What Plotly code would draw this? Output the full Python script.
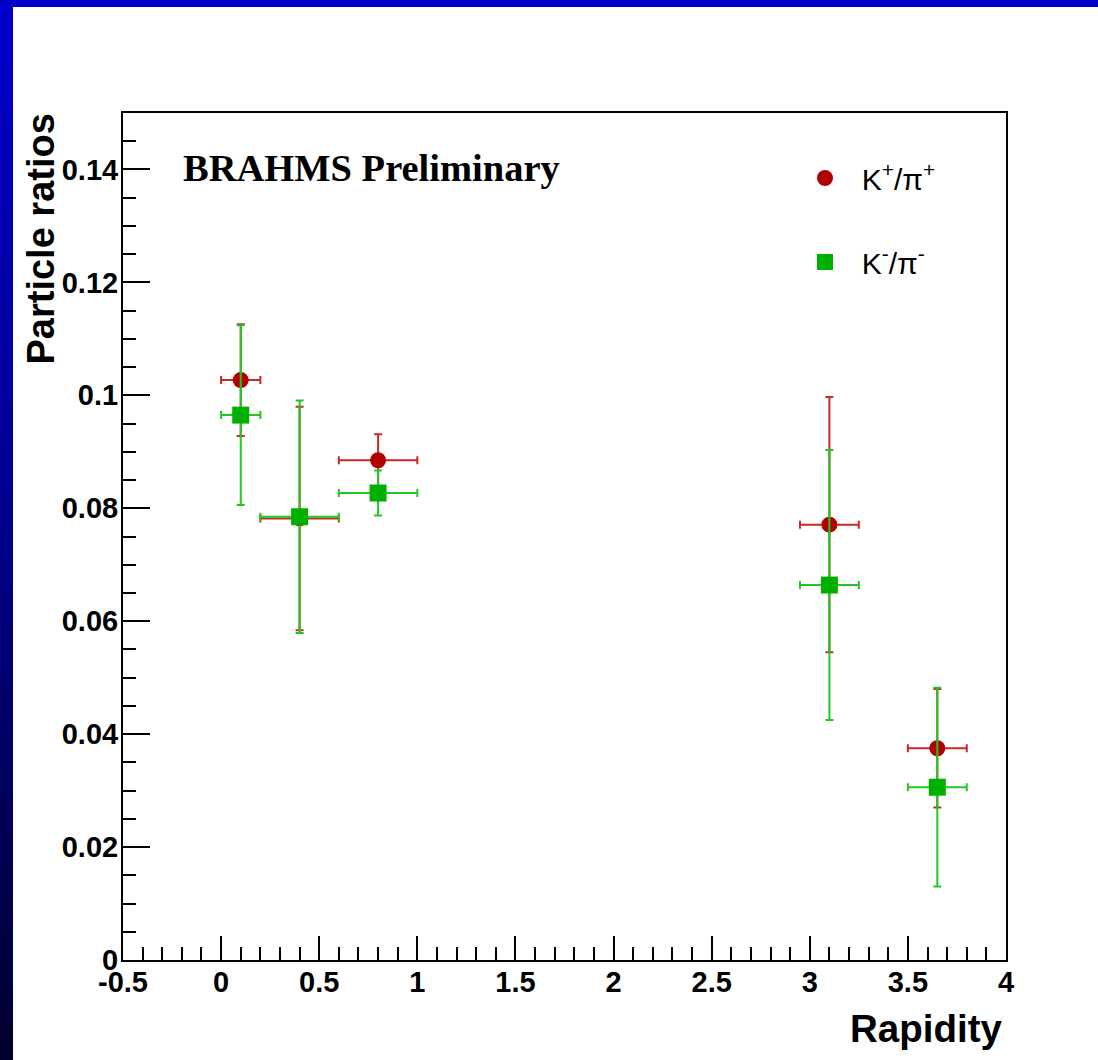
import plotly.graph_objects as go

# ---- data ----
rapidity = [0.1, 0.4, 0.8, 3.1, 3.65]
rapidity_err = [0.1, 0.2, 0.2, 0.15, 0.15]

kp_pip = [0.1027, 0.0782, 0.0885, 0.0771, 0.0375]
kp_pip_err = [0.0099, 0.0198, 0.0046, 0.0226, 0.0105]

km_pim = [0.0965, 0.0785, 0.0827, 0.0664, 0.0306]
km_pim_err = [0.0159, 0.0206, 0.0040, 0.0239, 0.0176]

x_tickvals = [-0.5, 0, 0.5, 1, 1.5, 2, 2.5, 3, 3.5, 4]
x_ticktext = ["-0.5", "0", "0.5", "1", "1.5", "2", "2.5", "3", "3.5", "4"]
y_tickvals = [0, 0.02, 0.04, 0.06, 0.08, 0.1, 0.12, 0.14]
y_ticktext = ["0", "0.02", "0.04", "0.06", "0.08", "0.1", "0.12", "0.14"]

W, H = 1098, 1060
L, R, T, B = 123, 92, 113, 100
PW, PH = W - L - R, H - T - B

def px_x(px):
    return (px - L) / PW

def px_y(py):
    return (H - B - py) / PH

NB = "\u00a0"

fig = go.Figure()

fig.add_trace(go.Scatter(
    x=rapidity, y=kp_pip, mode="markers",
    name=NB * 2 + "K<sup>+</sup>/π<sup>+</sup>", legendgroup="kplus",
    marker=dict(symbol="circle", size=16, color="#b00000"),
    error_x=dict(type="data", array=rapidity_err, color="#c82828", thickness=2, width=4),
    error_y=dict(type="data", array=kp_pip_err, color="#c82828", thickness=2, width=4),
))
fig.add_trace(go.Scatter(
    x=rapidity, y=km_pim, mode="markers",
    name=NB * 2 + "K<sup>-</sup>/π<sup>-</sup>", legendgroup="kminus",
    marker=dict(symbol="square", size=17, color="#00b000"),
    error_x=dict(type="data", array=rapidity_err, color="#22c822", thickness=2, width=4),
    error_y=dict(type="data", array=km_pim_err, color="#22c822", thickness=2, width=4),
))

tickfont = dict(family="Liberation Sans", size=29, color="black", weight="bold")

fig.update_xaxes(
    range=[-0.5, 4], tickvals=x_tickvals, ticktext=x_ticktext,
    ticks="inside", ticklen=24, tickwidth=2, tickcolor="black",
    minor=dict(dtick=0.1, ticks="inside", ticklen=13, tickwidth=2, tickcolor="black"),
    showline=True, linecolor="black", linewidth=2, mirror=True,
    showgrid=False, zeroline=False, tickfont=tickfont, ticklabelstandoff=-5,
)
fig.update_yaxes(
    range=[0, 0.15], tickvals=y_tickvals, ticktext=y_ticktext,
    ticks="inside", ticklen=27, tickwidth=2, tickcolor="black",
    minor=dict(dtick=0.005, ticks="inside", ticklen=13, tickwidth=2, tickcolor="black"),
    showline=True, linecolor="black", linewidth=2, mirror=True,
    showgrid=False, zeroline=False, tickfont=tickfont, ticklabelstandoff=-3,
)

# blue slide frame: top band and left gradient band
shapes = []
shapes.append(dict(type="rect", xref="paper", yref="paper",
                   x0=px_x(0), x1=px_x(W), y0=px_y(7), y1=px_y(0),
                   fillcolor="#0000cc", line=dict(width=0), layer="above"))
stops = [(0, 204), (500, 143), (1060, 45)]
def blue_at(py):
    for (a, ca), (b, cb) in zip(stops[:-1], stops[1:]):
        if a <= py <= b:
            return ca + (cb - ca) * (py - a) / (b - a)
    return stops[-1][1]
step = 10
for y0 in range(0, H, step):
    c = int(round(blue_at(y0 + step / 2)))
    shapes.append(dict(type="rect", xref="paper", yref="paper",
                       x0=px_x(0), x1=px_x(13), y0=px_y(y0 + step + 0.5), y1=px_y(y0),
                       fillcolor=f"rgb(0,0,{c})", line=dict(width=0), layer="above"))

annotations = [
    dict(text="BRAHMS Preliminary", xref="paper", yref="paper",
         x=px_x(181), y=px_y(168), xanchor="left", yanchor="middle", showarrow=False,
         font=dict(family="Liberation Serif", size=38.5, color="black", weight="bold")),
    dict(text="Rapidity", xref="paper", yref="paper",
         x=px_x(1004), y=px_y(1028), xanchor="right", yanchor="middle", showarrow=False,
         font=dict(family="Liberation Sans", size=38.5, color="black", weight="bold")),
    dict(text="Particle ratios", xref="paper", yref="paper", textangle=-90,
         x=px_x(41), y=px_y(112), xanchor="center", yanchor="top", showarrow=False,
         font=dict(family="Liberation Sans", size=38, color="black", weight="bold")),
]

fig.update_layout(
    width=W, height=H,
    margin=dict(l=L, r=R, t=T, b=B),
    paper_bgcolor="white", plot_bgcolor="white",
    shapes=shapes, annotations=annotations,
    showlegend=True,
    legend=dict(x=px_x(805), y=px_y(152), xanchor="left", yanchor="top",
                font=dict(family="Liberation Sans", size=30, color="black"),
                bgcolor="rgba(0,0,0,0)", borderwidth=0, tracegroupgap=42,
                itemsizing="trace"),
)

fig.write_html("out.html")
